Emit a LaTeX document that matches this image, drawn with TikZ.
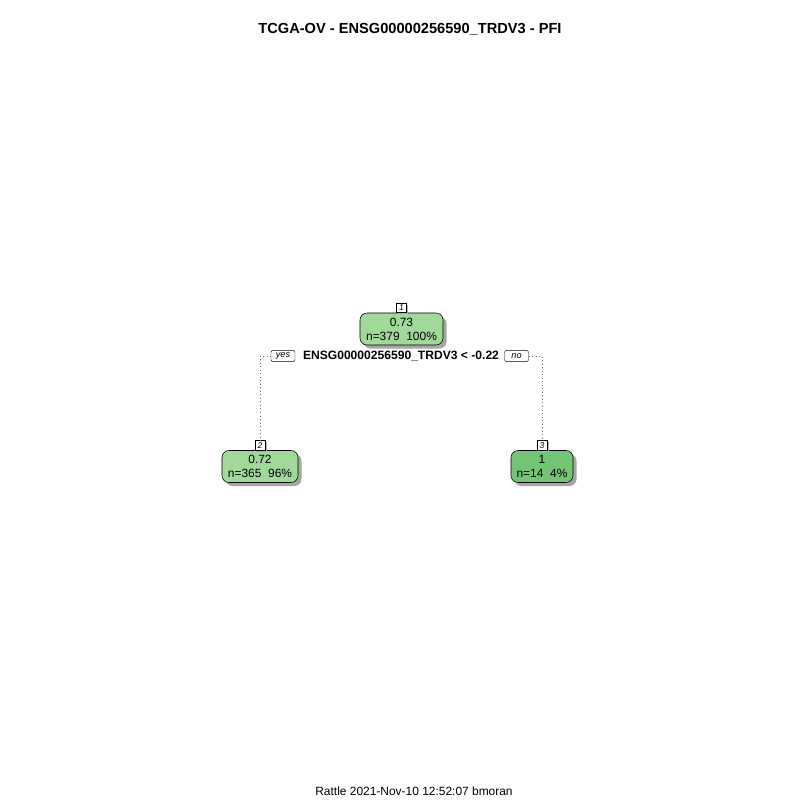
\documentclass[tikz,border=0pt]{standalone}
\usepackage{fontspec}
\setmainfont{Liberation Sans}
\usetikzlibrary{positioning,shadows}
\definecolor{leafgreen}{RGB}{161,217,155}
\definecolor{deepgreen}{RGB}{116,196,118}
\definecolor{edgegray}{RGB}{110,110,110}

\begin{document}
\begin{tikzpicture}[
    x=0.025cm, y=-0.025cm,
    treenode/.style={rectangle, rounded corners=5pt, draw=black, thin, minimum height=0.8cm, inner sep=1pt, align=center,
        font=\fontsize{8.5}{10}\selectfont, drop shadow={shadow xshift=2.5pt, shadow yshift=-2.5pt, fill=black!35, opacity=1}},
    numtag/.style={rectangle, draw=black, line width=0.3pt, fill=white, minimum width=0.26cm, minimum height=0.24cm, inner sep=0pt,
        font=\fontsize{6}{6}\selectfont\itshape, drop shadow={shadow xshift=1.2pt, shadow yshift=-1.2pt, fill=black!30, opacity=1}},
    answer/.style={rectangle, rounded corners=1.5pt, draw=black, line width=0.3pt, fill=white, minimum width=0.6cm, minimum height=0.28cm,
        inner sep=1pt, font=\fontsize{6.5}{7}\selectfont\itshape},
    branch/.style={edgegray, dotted, line width=0.5pt}
]
\useasboundingbox (0,0) rectangle (800,800);

% Title and footer
\node[font=\fontsize{10.4}{12}\selectfont\bfseries] (title) at (410,29) {TCGA-OV - ENSG00000256590\_TRDV3 - PFI};
\node[font=\fontsize{8.5}{10}\selectfont] (footer) at (414,791) {Rattle 2021-Nov-10 12:52:07 bmoran};

% Tree nodes
\node[treenode, fill=leafgreen, minimum width=2.075cm] (root) at (401.5,329) {0.73\\n=379\ \ 100\%};
\node[treenode, fill=leafgreen, minimum width=1.9cm] (left) at (260,466.5) {0.72\\n=365\ \ 96\%};
\node[treenode, fill=deepgreen, minimum width=1.55cm] (right) at (542,466.5) {1\\n=14\ \ 4\%};

% Node numbers
\node[numtag, above=0pt of root] (tag1) {1};
\node[numtag, above=0pt of left] (tag2) {2};
\node[numtag, above=0pt of right] (tag3) {3};

% Split
\node[font=\fontsize{8.6}{10}\selectfont\bfseries] (split) at (401,356) {ENSG00000256590\_TRDV3 < -0.22};
\node[answer] (yes) at (283,356) {yes};
\node[answer] (no) at (516.5,356) {no};
\coordinate (yesturn) at (260,356);
\coordinate (noturn) at (542,356);

% Branches
\draw[branch] (yes.west) -- (yesturn) -- (tag2.north);
\draw[branch] (no.east) -- (noturn) -- (tag3.north);

\end{tikzpicture}
\end{document}
